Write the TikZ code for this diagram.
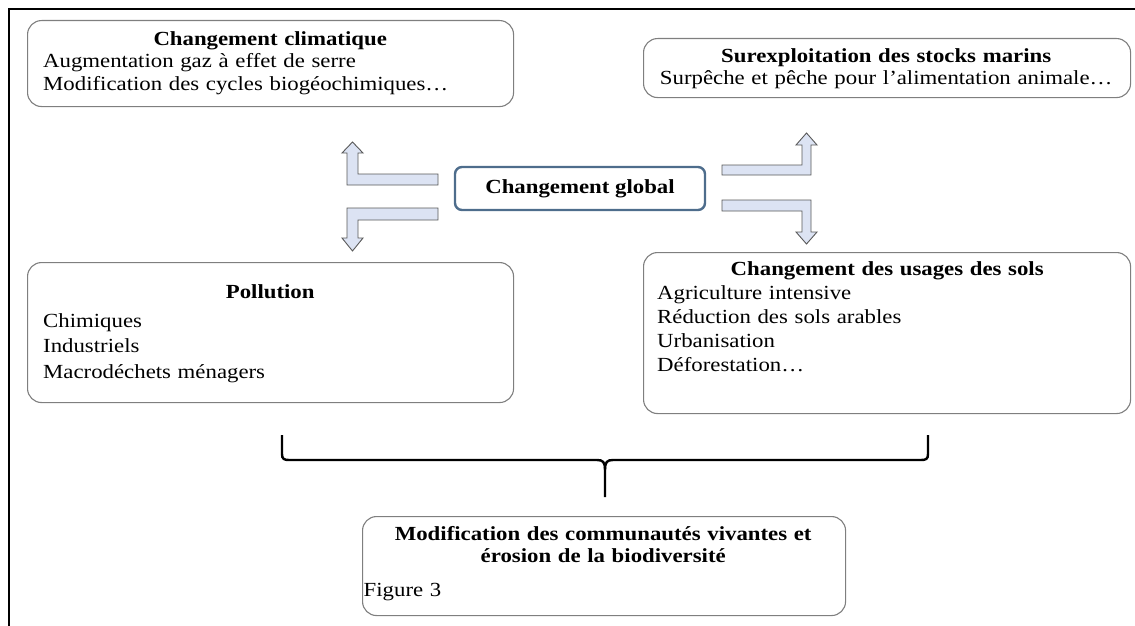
\documentclass[tikz,border=0pt]{standalone}
\usepackage{fontspec}
\setmainfont[FakeStretch=1.14]{Liberation Serif}
\definecolor{boxgray}{HTML}{7F7F7F}
\definecolor{globblue}{HTML}{4E6D8C}
\definecolor{arrowfill}{HTML}{DCE3F3}
\definecolor{arrowline}{HTML}{595959}
\begin{document}
\begin{tikzpicture}[x=1pt, y=-1pt,
  box/.style={draw=boxgray, line width=1.1pt, rounded corners=14pt, anchor=north west, inner sep=0pt},
  txt/.style={anchor=north west, inner sep=0pt, align=left,
    execute at begin node={\setlength{\parindent}{0pt}}},
  flow/.style={draw=arrowline, fill=arrowfill, line width=0.9pt},
  brace/.style={line width=2.4pt}]
\useasboundingbox (0,0) rectangle (1135,626);
\draw [line width=2pt] (9,626) -- (9,9) -- (1135,9);

\node[box, minimum width=486pt, minimum height=86pt] (clim) at (27,20) {};
\node[box, minimum width=487pt, minimum height=59pt] (surex) at (643,38) {};
\node[box, minimum width=486pt, minimum height=140pt] (poll) at (27,262) {};
\node[box, minimum width=487pt, minimum height=161pt] (sols) at (643,252) {};
\node[box, minimum width=483pt, minimum height=99pt] (modif) at (362,516) {};
\node[draw=globblue, line width=2.4pt, rounded corners=7pt, outer sep=0pt,
      minimum width=250pt, minimum height=43pt,
      font=\fontsize{20}{23}\selectfont\bfseries] (glob) at (580,188.5) {Changement global};

\node[txt, text width=454pt, font=\fontsize{20}{22.5}\selectfont] (clim-t)
  at ([shift={(16,11.4)}]clim.north west)
  {{\centering\bfseries Changement climatique\par}
   Augmentation gaz à effet de serre\\
   Modification des cycles biogéochimiques…};
\node[txt, text width=474pt, align=center, font=\fontsize{20}{21.6}\selectfont] (surex-t)
  at ([shift={(6,10.4)}]surex.north west)
  {\textbf{Surexploitation des stocks marins}\\
   Surpêche et pêche pour l’alimentation animale…};
\node[txt, text width=454pt, font=\fontsize{20}{25.5}\selectfont] (poll-t)
  at ([shift={(16,22.4)}]poll.north west)
  {{\centering\bfseries Pollution\par}\vspace{3.5pt}
   Chimiques\\
   Industriels\\
   Macrodéchets ménagers};
\node[txt, text width=460pt, font=\fontsize{20}{24}\selectfont] (sols-t)
  at ([shift={(14,9.4)}]sols.north west)
  {{\centering\bfseries Changement des usages des sols\par}
   Agriculture intensive\\
   Réduction des sols arables\\
   Urbanisation\\
   Déforestation…};
\node[txt, text width=479pt, font=\fontsize{20}{22}\selectfont] (modif-t)
  at ([shift={(1.5,10.2)}]modif.north west)
  {{\centering\bfseries Modification des communautés vivantes et\\
    érosion de la biodiversité\par}\vspace{12pt}
   Figure 3};

% bent arrows out of the central box
\draw[flow] ([shift={(-17,-14.5)}]glob.west) -- ++(-80,0) -- ++(0,-21) -- ++(5,0)
  -- ++(-10.5,-11) -- ++(-10.5,11) -- ++(5,0) -- ++(0,32) -- ++(91,0) -- cycle;
\draw[flow] ([shift={(-17,19.5)}]glob.west) -- ++(-91,0) -- ++(0,30) -- ++(-5,0)
  -- ++(10.5,13) -- ++(10.5,-13) -- ++(-5,0) -- ++(0,-18) -- ++(80,0) -- cycle;
\draw[flow] ([shift={(17,-23.5)}]glob.east) -- ++(80,0) -- ++(0,-20) -- ++(-6,0)
  -- ++(10.5,-12) -- ++(10.5,12) -- ++(-6,0) -- ++(0,30) -- ++(-89,0) -- cycle;
\draw[flow] ([shift={(17,11.5)}]glob.east) -- ++(89,0) -- ++(0,32) -- ++(6,0)
  -- ++(-10.5,12) -- ++(-10.5,-12) -- ++(6,0) -- ++(0,-21) -- ++(-80,0) -- cycle;

% brace gathering the four boxes
\coordinate (brace-l) at (282,435);
\coordinate (brace-r) at (928,435);
\coordinate (brace-tip) at (605,497);
\draw[brace] (brace-l) -- (282,454) .. controls (282,459) and (284,460) .. (289,460)
  -- (597,460) .. controls (603,460) and (605,462) .. (605,470) -- (brace-tip);
\draw[brace] (605,470) .. controls (605,462) and (607,460) .. (613,460)
  -- (921,460) .. controls (926,460) and (928,459) .. (928,454) -- (brace-r);
\end{tikzpicture}
\end{document}
